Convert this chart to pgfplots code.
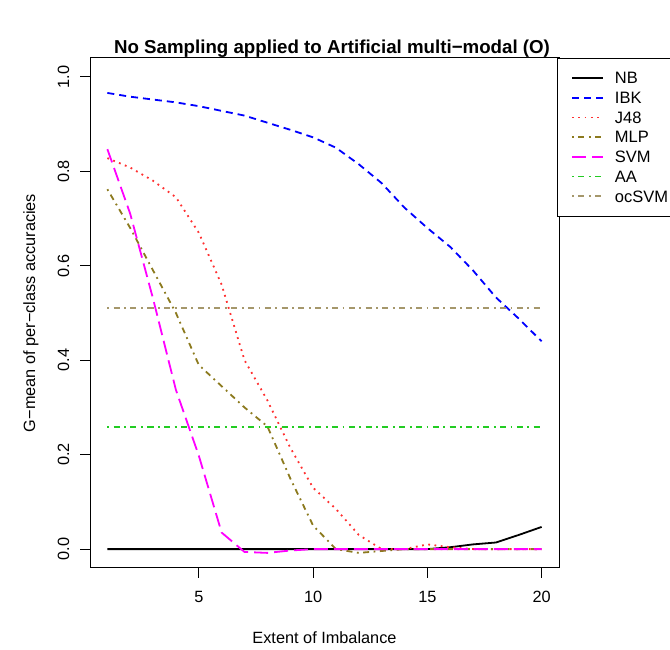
\documentclass[border=0pt]{standalone}
\usepackage{pgfplots}
\pgfplotsset{compat=1.18}
\usepackage{pgfplotstable}
\usepackage{fontspec}
\setmainfont{Liberation Sans}
\definecolor{mlpcol}{HTML}{8C7A1E}
\definecolor{occol}{HTML}{A5976B}
\definecolor{aacol}{HTML}{22CC22}
\definecolor{svmcol}{HTML}{FF00FF}
\definecolor{ibkcol}{HTML}{0000FF}
\definecolor{j48col}{HTML}{FF3030}

\pgfplotstableread{
x NB IBK J48 MLP SVM AA ocSVM
1 0 0.966 0.828 0.762 0.847 0.258 0.511
2 0 0.958 0.808 0.68 0.71 0.258 0.511
3 0 0.952 0.78 0.59 0.53 0.258 0.511
4 0 0.946 0.745 0.50 0.337 0.258 0.511
5 0 0.938 0.67 0.39 0.198 0.258 0.511
6 0 0.928 0.56 0.345 0.035 0.258 0.511
7 0 0.918 0.40 0.30 -0.006 0.258 0.511
8 0 0.903 0.315 0.26 -0.008 0.258 0.511
9 0 0.888 0.215 0.15 -0.003 0.258 0.511
10 0 0.872 0.13 0.05 0 0.258 0.511
11 0 0.85 0.085 0.0 0 0.258 0.511
12 0 0.815 0.03 -0.008 0 0.258 0.511
13 0 0.775 0.0 -0.004 0 0.258 0.511
14 0 0.723 0.0 0.0 0 0.258 0.511
15 0 0.68 0.01 0 0 0.258 0.511
16 0.004 0.64 0.004 0 0 0.258 0.511
17 0.01 0.59 0 0 0 0.258 0.511
18 0.014 0.533 0 0 0 0.258 0.511
19 0.03 0.488 0 0 0 0.258 0.511
20 0.047 0.44 0 0 0 0.258 0.511
}\datatable

\begin{document}
\begin{tikzpicture}
\path[use as bounding box] (0,0) rectangle (670bp,650bp);
\begin{axis}[
  at={(90bp,82bp)}, anchor=south west,
  scale only axis, width=469bp, height=510bp,
  xmin=0.24, xmax=20.76, ymin=-0.04, ymax=1.04,
  xtick={5,10,15,20},
  ytick={0,0.2,0.4,0.6,0.8,1.0},
  tick pos=left, tick align=outside,
  major tick length=10bp,
  axis line style={black, line width=1bp},
  tick style={black, line width=1bp},
  /pgf/number format/.cd, fixed, fixed zerofill, precision=1, assume math mode=true,
  /pgfplots/.cd,
  xticklabel={\pgfmathprintnumber[fixed,precision=0]{\tick}},
  xticklabel style={font=\fontsize{16.3bp}{19bp}\selectfont, anchor=base, yshift=-25bp},
  yticklabel style={font=\fontsize{16.3bp}{19bp}\selectfont, xshift=-11bp, rotate=90, anchor=base},
  every axis plot/.append style={line width=1.8bp},
  legend style={
    at={(0.9957,1)}, anchor=north west,
    draw=black, 
    font=\fontsize{16.5bp}{19.7bp}\selectfont,
    inner xsep=14bp, inner ysep=10bp,
    row sep=0pt, column sep=11bp,
    nodes={inner sep=0pt, minimum height=19.7bp, text depth=0pt},
    cells={anchor=west},
  },
  legend image code/.code={\draw[line width=1.8bp,#1] (0bp,0bp) -- (31bp,0bp);},
]
\addplot[black] table[x=x,y=NB] {\datatable};
\addlegendentry{\makebox[100bp][l]{NB}}
\addplot[draw=ibkcol, dash pattern=on 7bp off 5bp] table[x=x,y=IBK] {\datatable};
\addlegendentry{IBK}
\addplot[draw=j48col, dash pattern=on 1.8bp off 4.5bp] table[x=x,y=J48] {\datatable};
\addlegendentry{J48}
\addplot[draw=mlpcol, dash pattern=on 1.8bp off 4.5bp on 6bp off 4.5bp] table[x=x,y=MLP] {\datatable};
\addlegendentry{MLP}
\addplot[draw=svmcol, dash pattern=on 14bp off 6bp] table[x=x,y=SVM] {\datatable};
\addlegendentry{SVM}
\addplot[draw=aacol, dash pattern=on 1.8bp off 4.5bp on 6bp off 4.5bp] table[x=x,y=AA] {\datatable};
\addlegendentry{AA}
\addplot[draw=occol, dash pattern=on 1.8bp off 4.5bp on 6bp off 4.5bp] table[x=x,y=ocSVM] {\datatable};
\addlegendentry{ocSVM}
\end{axis}
\node[anchor=base, font=\fontsize{18.7bp}{22bp}\selectfont\bfseries] at (332bp,596bp) {No Sampling applied to Artificial multi−modal (O)};
\node[anchor=base, font=\fontsize{16.3bp}{19bp}\selectfont] at (324.5bp,7bp) {Extent of Imbalance};
\node[anchor=base, rotate=90, font=\fontsize{16.3bp}{19bp}\selectfont] at (35bp,337bp) {G−mean of per−class accuracies};
\end{tikzpicture}
\end{document}
